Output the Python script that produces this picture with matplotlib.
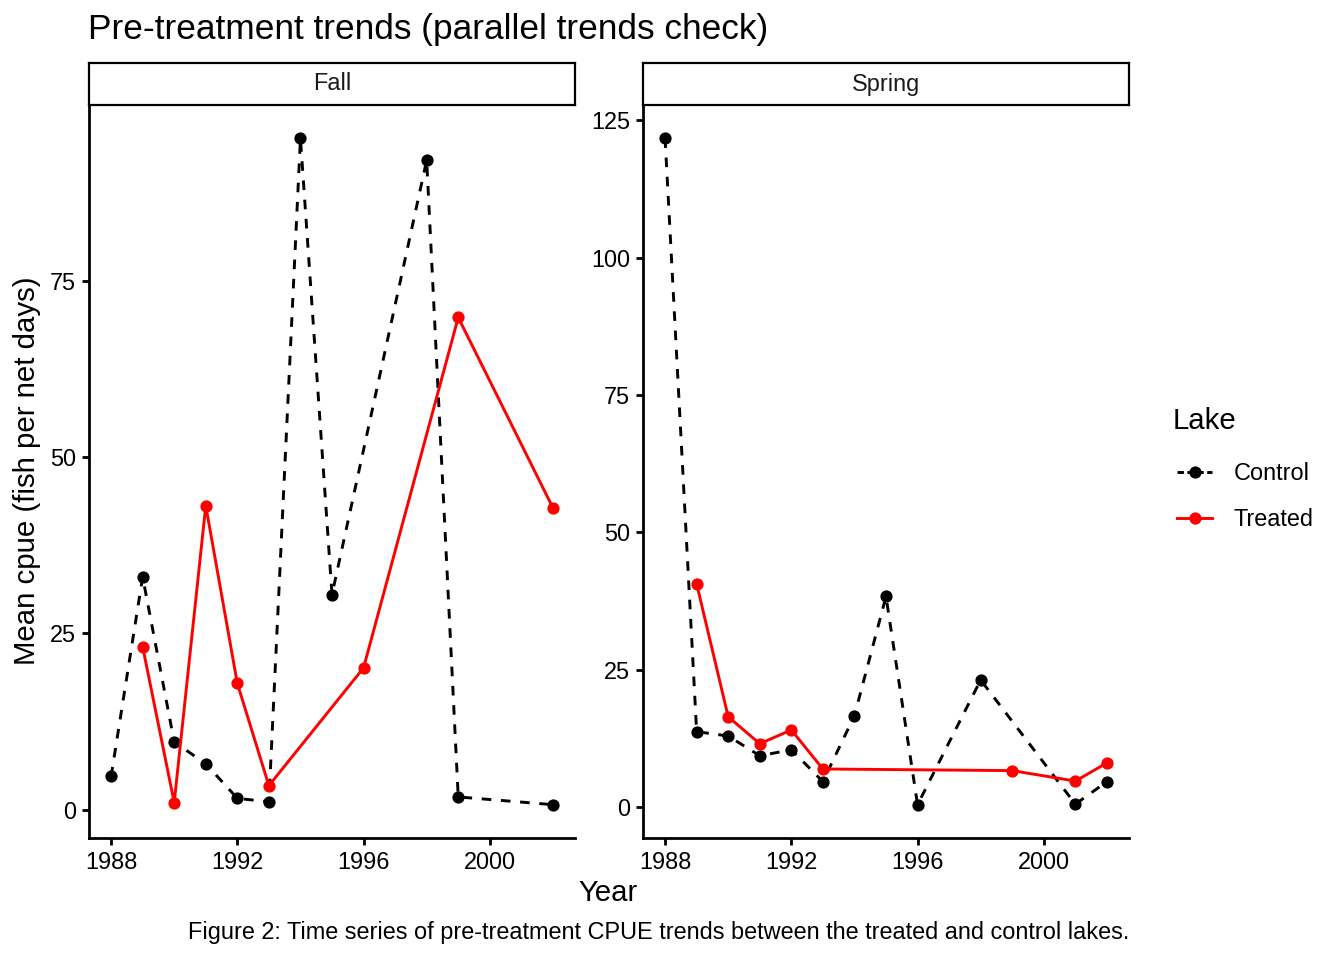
import matplotlib.pyplot as plt
from matplotlib.lines import Line2D
import numpy as np

plt.rcParams['font.family'] = ['Liberation Sans', 'DejaVu Sans']

# ---- data ----
fall_ctrl_years = [1988, 1989, 1990, 1991, 1992, 1993, 1994, 1995, 1998, 1999, 2002]
fall_ctrl_cpue = [4.7, 33.0, 9.6, 6.5, 1.6, 1.1, 95.2, 30.5, 92.1, 1.8, 0.7]
fall_trt_years = [1989, 1990, 1991, 1992, 1993, 1996, 1999, 2002]
fall_trt_cpue = [23.1, 1.0, 43.1, 17.9, 3.4, 20.1, 69.8, 42.8]

spring_ctrl_years = [1988, 1989, 1990, 1991, 1992, 1993, 1994, 1995, 1996, 1998, 2001, 2002]
spring_ctrl_cpue = [121.7, 13.7, 12.9, 9.3, 10.4, 4.6, 16.6, 38.3, 0.4, 23.1, 0.5, 4.6]
spring_trt_years = [1989, 1990, 1991, 1992, 1993, 1999, 2001, 2002]
spring_trt_cpue = [40.6, 16.4, 11.5, 14.0, 6.9, 6.6, 4.7, 8.0]

panels = ["Fall", "Spring"]
x_ticks = [1988, 1992, 1996, 2000]
fall_yticks = [0, 25, 50, 75]
spring_yticks = [0, 25, 50, 75, 100, 125]

W, H = 1344, 960
DPI = 100
fig = plt.figure(figsize=(W / DPI, H / DPI), dpi=DPI)

FS_SMALL = 16.9
FS_MID = 21.2
FS_TITLE = 25.4


def px_axes(left, top, right, bottom):
    return fig.add_axes([left / W, 1 - bottom / H, (right - left) / W, (bottom - top) / H])


def expand(vals, mult=0.05):
    lo, hi = min(vals), max(vals)
    pad = (hi - lo) * mult
    return lo - pad, hi + pad


LW = 2.1
MS = 7.8
DASH = (0, (3.3, 3.3))
panel_data = [
    (fall_ctrl_years, fall_ctrl_cpue, fall_trt_years, fall_trt_cpue, fall_yticks),
    (spring_ctrl_years, spring_ctrl_cpue, spring_trt_years, spring_trt_cpue, spring_yticks),
]
lefts = [89, 643]
rights = [575, 1129]

for i, (cy, cv, ty, tv, yt) in enumerate(panel_data):
    ax = px_axes(lefts[i], 105, rights[i], 838)
    ax.plot(cy, cv, color='black', linestyle=DASH, linewidth=LW,
            marker='o', markersize=MS, label='Control')
    ax.plot(ty, tv, color='#ff0000', linestyle='-', linewidth=LW,
            marker='o', markersize=MS, label='Treated')

    ax.set_xlim(*expand(cy + ty))
    ax.set_ylim(*expand(cv + tv))
    ax.set_xticks(x_ticks)
    ax.set_yticks(yt)
    for s in ['top', 'right']:
        ax.spines[s].set_visible(False)
    for s in ['left', 'bottom']:
        ax.spines[s].set_linewidth(2.0)
    ax.tick_params(direction='out', length=5, width=2.0, labelsize=FS_SMALL,
                   colors='black', pad=4.5)

    # facet strip
    sax = px_axes(lefts[i], 63, rights[i], 105)
    sax.set_xticks([])
    sax.set_yticks([])
    for s in sax.spines.values():
        s.set_linewidth(1.6)
    sax.text(0.5, 0.5, panels[i], ha='center', va='center', fontsize=FS_SMALL,
             color='#1a1a1a', transform=sax.transAxes)

fig.text(88 / W, 1 - 29 / H, "Pre-treatment trends (parallel trends check)",
         ha='left', va='center', fontsize=FS_TITLE)
fig.text(608 / W, 1 - 893 / H, "Year", ha='center', va='center', fontsize=FS_MID)
fig.text(27 / W, 1 - 471 / H, "Mean cpue (fish per net days)", ha='center',
         va='center', rotation=90, fontsize=FS_MID)
fig.text(1129 / W, 1 - 933 / H,
         "Figure 2: Time series of pre-treatment CPUE trends between the treated and control lakes.",
         ha='right', va='center', fontsize=FS_SMALL)

# legend
fig.text(1173 / W, 1 - 421 / H, "Lake", ha='left', va='center', fontsize=FS_MID)
handles = [
    Line2D([0], [0], color='black', linestyle=(0, (2.2, 1.2)), linewidth=LW, marker='o', markersize=MS),
    Line2D([0], [0], color='#ff0000', linestyle='-', linewidth=LW, marker='o', markersize=MS),
]
leg = fig.legend(handles, ['Control', 'Treated'], loc='upper left',
                 bbox_to_anchor=(1177 / W, 1 - 462 / H), frameon=False,
                 fontsize=FS_SMALL, handlelength=1.5, handletextpad=0.9,
                 labelspacing=0.97, borderaxespad=0, borderpad=0)

fig.savefig('out.png', dpi=DPI)
